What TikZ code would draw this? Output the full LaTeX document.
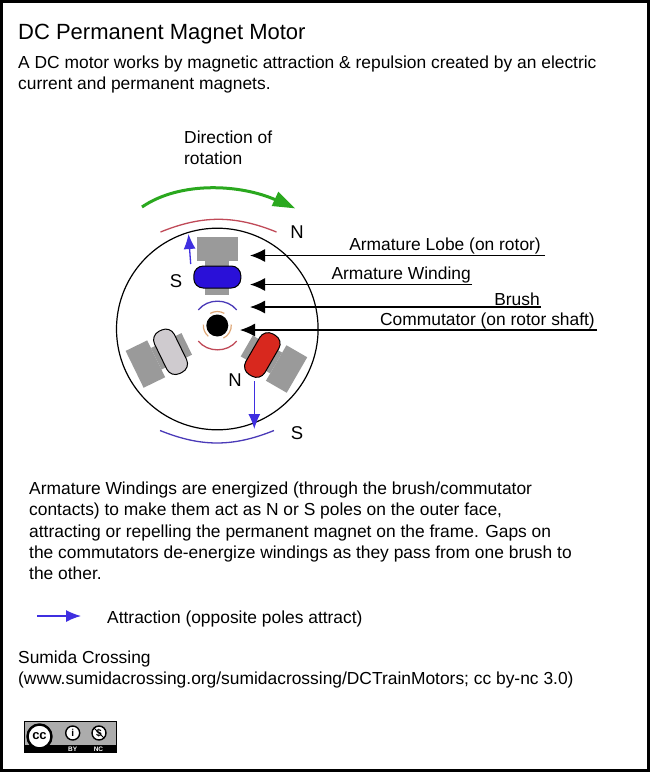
\documentclass[tikz,border=0pt]{standalone}
\usepackage{fontspec}
\setmainfont{Liberation Sans}
\usetikzlibrary{arrows.meta,calc,positioning}
\definecolor{rotorgray}{HTML}{9A9A9A}
\definecolor{windblue}{HTML}{2A10D8}
\definecolor{windred}{HTML}{D8281E}
\definecolor{windgray}{HTML}{CFCBCF}
\definecolor{polered}{HTML}{C04A58}
\definecolor{poleblue}{HTML}{4A3AB8}
\definecolor{attractblue}{HTML}{3F2FE0}
\definecolor{rotgreen}{HTML}{2AA81E}
\definecolor{commorange}{HTML}{DFA878}
\tikzset{
  bodytext/.style={font=\fontsize{17.4}{21.1}\selectfont,align=left,inner sep=0pt,anchor=north west},
  callout/.style={font=\fontsize{17.4}{19}\selectfont,inner sep=1pt,anchor=south east},
  polelabel/.style={font=\fontsize{18.5}{20}\selectfont,inner sep=0pt},
  leader/.style={-{Latex[length=15pt,width=13pt]},line width=1.2pt},
  attract/.style={-{Latex[length=15pt,width=12pt]},line width=1.3pt,attractblue},
  lobe/.style={fill=rotorgray},
  winding/.style={draw=black,line width=1pt,rounded corners=9.5pt},
  polearc/.style={line width=1.3pt},
  commarc/.style={line width=1.2pt,commorange}
}
\begin{document}
\begin{tikzpicture}[x=1pt,y=1pt]
  \useasboundingbox (0,0) rectangle (650,-772);
  \fill[white] (0,0) rectangle (650,-772);
  \draw[line width=2.6pt] (1.3,-1.3) rectangle (648.7,-770.7);
  % heading
  \node[bodytext,font=\fontsize{22}{26}\selectfont] (title) at (18,-24) {DC Permanent Magnet Motor};
  \node[bodytext] (intro) at (18,-56) {A DC motor works by magnetic attraction \& repulsion created by an electric\\current and permanent magnets.};
  \node[bodytext] (dirlabel) at (184,-131) {Direction of\\rotation};
  % rotation arrow
  \draw[line width=3pt,rotgreen] (142,-207) .. controls (180,-181) and (240,-184) .. (276,-200);
  \fill[rotgreen] (295,-208.3) -- (278.3,-191.7) -- (271.7,-206) -- cycle;
  % frame magnets
  \draw[polearc,polered] (160.5,-232) to[bend left=22] (276.5,-232);
  \draw[polearc,poleblue] (160,-430.5) to[bend right=22] (274,-430.5);
  % rotor
  \draw[line width=1.2pt] (217.3,-329) circle (100.8);
  \foreach \ang/\col in {0/windblue,116/windgray,-120/windred}{
    \begin{scope}[shift={(217.3,-329)},rotate=\ang]
      \fill[lobe] (-20.5,68) rectangle (20.5,92);
      \fill[lobe] (-12,34) rectangle (12,68);
      \filldraw[winding,fill=\col] (-23.5,41) rectangle (23.5,63);
    \end{scope}
  }
  % commutator
  \coordinate (shaft) at (217.3,-325.5);
  \fill (shaft) circle (11);
  \draw[commarc] (shaft) ++(60:14) arc[start angle=60,end angle=120,radius=14];
  \draw[commarc] (shaft) ++(176:14) arc[start angle=176,end angle=230,radius=14];
  \draw[commarc] (shaft) ++(-64:14) arc[start angle=-64,end angle=4,radius=14];
  % brushes
  \draw[polearc,poleblue] (198.3,-310) to[bend left=52] (236.7,-310);
  \draw[polearc,polered] (198.3,-341) to[bend right=52] (236.7,-341);
  % pole letters
  \node[polelabel] (northtop) at (297,-232) {N};
  \node[polelabel] (southin) at (176,-281.5) {S};
  \node[polelabel] (northin) at (235,-380) {N};
  \node[polelabel] (southbot) at (297,-433) {S};
  % attraction arrows
  \coordinate (attA) at (190.7,-264);
  \coordinate (attB) at (188.5,-234);
  \coordinate (attC) at (254.3,-381);
  \coordinate (attD) at (254.3,-429);
  \draw[attract] (attA) -- (attB);
  \draw[attract] (attC) -- (attD);
  % callouts
  \node[callout,inner xsep=4pt] (lobelabel) at (545,-255.5) {Armature Lobe (on rotor)};
  \node[callout] (windlabel) at (472,-284.5) {Armature Winding};
  \node[callout] (brushlabel) at (541,-307) {Brush};
  \node[callout,inner xsep=2pt] (commlabel) at (597,-330) {Commutator (on rotor shaft)};
  \coordinate (lobetip) at (250,-255.5);
  \coordinate (windtip) at (250,-284.5);
  \coordinate (brushtip) at (250,-307);
  \coordinate (commtip) at (240,-330);
  \draw[leader] (lobelabel.south east) -- (lobetip);
  \draw[leader] (windlabel.south east) -- (windtip);
  \draw[leader] (brushlabel.south east) -- (brushtip);
  \draw[leader] (commlabel.south east) -- (commtip);
  % explanation
  \node[bodytext] (explain) at (29,-482) {Armature Windings are energized (through the brush/commutator\\contacts) to make them act as N or S poles on the outer face,\\attracting or repelling the permanent magnet on the frame. Gaps on\\the commutators de-energize windings as they pass from one brush to\\the other.};
  % legend
  \coordinate (legA) at (37,-616);
  \coordinate (legB) at (81,-616);
  \draw[attract] (legA) -- (legB);
  \node[bodytext] (legend) at (107,-611) {Attraction (opposite poles attract)};
  \node[bodytext] (source) at (18,-651) {Sumida Crossing\\(www.sumidacrossing.org/sumidacrossing/DCTrainMotors; cc by-nc 3.0)};
  % licence badge
  \fill[black] (24,-721) rectangle (117,-753);
  \fill[gray!65] (25,-722) rectangle (116,-745);
  \filldraw[fill=white,draw=black,line width=2.4pt] (39.5,-736.5) circle (12);
  \node[inner sep=0pt,font=\fontsize{13}{13}\selectfont\bfseries] (ccmark) at (39.5,-736.5) {cc};
  \filldraw[fill=white,draw=black,line width=1.4pt] (72.7,-733) circle (7);
  \node[inner sep=0pt,font=\fontsize{10}{10}\selectfont\bfseries] (bymark) at (72.7,-733) {i};
  \filldraw[fill=white,draw=black,line width=1.4pt] (99,-733) circle (7);
  \node[inner sep=0pt,font=\fontsize{10}{10}\selectfont\bfseries] (ncmark) at (99,-733) {\$};
  \draw[line width=1pt] (94,-728) -- (104,-738);
  \node[inner sep=0pt,white,font=\fontsize{6.5}{7}\selectfont\bfseries] (bytext) at (72.7,-749.2) {BY};
  \node[inner sep=0pt,white,font=\fontsize{6.5}{7}\selectfont\bfseries] (nctext) at (98.5,-749.2) {NC};
\end{tikzpicture}
\end{document}
